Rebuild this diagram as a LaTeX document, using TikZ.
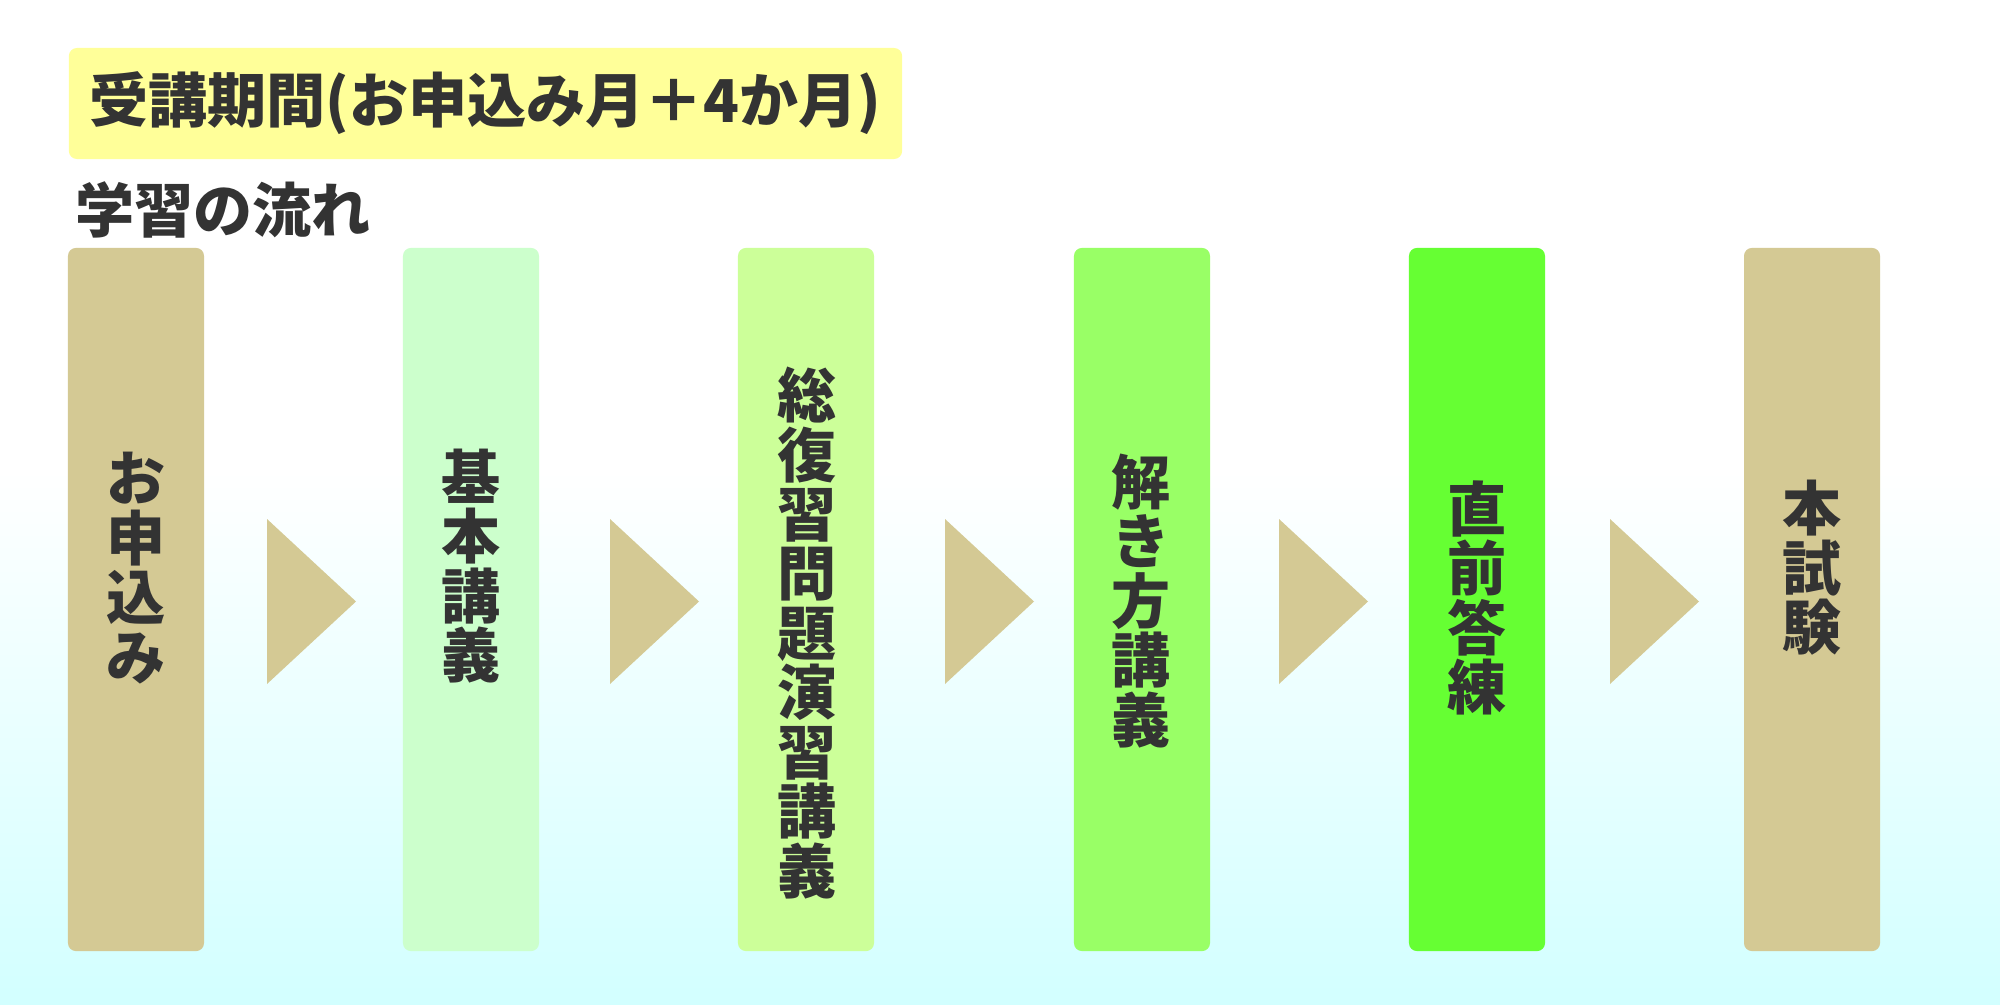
\documentclass[tikz,border=0pt]{standalone}
\usepackage{fontspec}
\newfontfamily\jpfont{Noto Sans CJK JP}
\definecolor{stagetan}{HTML}{D4C994}
\definecolor{mintgreen}{HTML}{CCFFCC}
\definecolor{palegreen}{HTML}{CCFF99}
\definecolor{lightgreen}{HTML}{99FF66}
\definecolor{brightgreen}{HTML}{66FF33}
\definecolor{titleyellow}{HTML}{FFFF99}
\definecolor{bgcyan}{HTML}{D2FFFF}
\definecolor{inkgray}{HTML}{333333}
\begin{document}
\begin{tikzpicture}[x=0.025cm,y=-0.025cm,
stagebox/.style={rounded corners=0.2cm,minimum width=3.4cm,minimum height=17.575cm,inner sep=0},
stagetext/.style={align=center,text=inkgray,inner sep=0,font=\jpfont\bfseries\fontsize{42}{42.3}\selectfont},
headtext/.style={text=inkgray,inner sep=0,font=\jpfont\bfseries\fontsize{42}{42}\selectfont}]

\useasboundingbox (0,0) rectangle (2000,1005);
\fill[white](0,0) rectangle (2000,470);
\shade[top color=white,bottom color=bgcyan](0,470) rectangle (2000,1005);

\node[headtext,fill=titleyellow,rounded corners=0.2cm,minimum width=20.825cm,minimum height=2.775cm](period) at(485.5,103.5){受講期間(お申込み月＋4か月)};
\node[headtext,anchor=west](flow) at(75,210){学習の流れ};

\node[stagebox,fill=stagetan](apply) at(136,599.5){};
\node[stagebox,fill=mintgreen](basic) at(471,599.5){};
\node[stagebox,fill=palegreen](review) at(806,599.5){};
\node[stagebox,fill=lightgreen](solve) at(1142,599.5){};
\node[stagebox,fill=brightgreen](final) at(1477,599.5){};
\node[stagebox,fill=stagetan](exam) at(1812,599.5){};

\node[stagetext](applytext) at(136,568){お\\申\\込\\み};
\node[stagetext](basictext) at(471,566){基\\本\\講\\義};
\node[stagetext](reviewtext) at(807,633){総\\復\\習\\問\\題\\演\\習\\講\\義};
\node[stagetext](solvetext) at(1141,601){解\\き\\方\\講\\義};
\node[stagetext](finaltext) at(1477,598){直\\前\\答\\練};
\node[stagetext](examtext) at(1812,568){本\\試\\験};

\foreach \x in {267,610,945,1279,1610}
\fill[stagetan](\x,519)--++(89,82.5)--++(-89,82.5)--cycle;
\end{tikzpicture}
\end{document}
